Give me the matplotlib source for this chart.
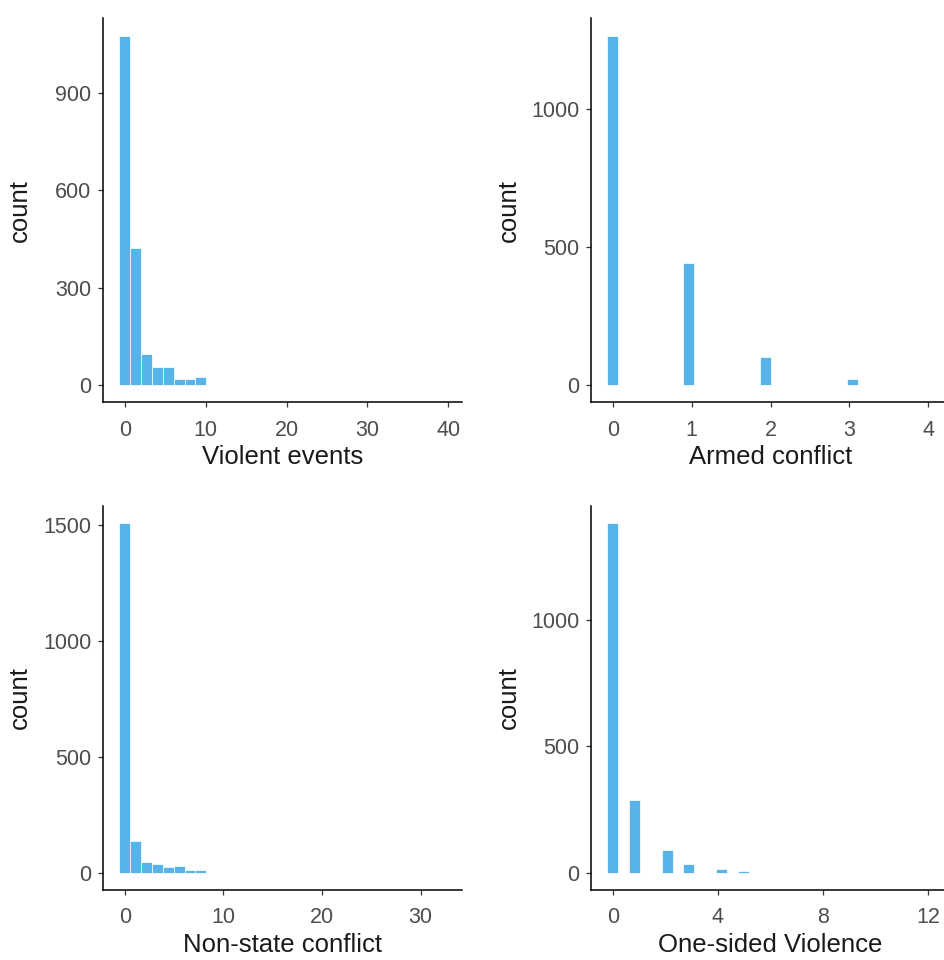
import numpy as np
import matplotlib
matplotlib.use('Agg')
import matplotlib.pyplot as plt

plt.rcParams['font.family'] = ['Liberation Sans', 'DejaVu Sans']

# histogram counts per bin (30 bins, ggplot style: bins centred on 0 .. max)
ve_max = 39
ve_counts = [1074, 421, 95, 55, 55, 20, 20, 25, 0, 0, 0, 0, 0, 0, 0,
             0, 0, 0, 0, 0, 0, 0, 0, 0, 0, 0, 0, 0, 0, 0]
ac_max = 4
ac_counts = [1264, 0, 0, 0, 0, 0, 0, 443, 0, 0, 0, 0, 0, 0, 103,
             0, 0, 0, 0, 0, 0, 0, 23, 0, 0, 0, 0, 0, 0, 0]
ns_max = 32
ns_counts = [1506, 134, 47, 37, 22, 30, 12, 10, 0, 0, 0, 0, 0, 0, 0,
             0, 0, 0, 0, 0, 0, 0, 0, 0, 0, 0, 0, 0, 0, 0]
os_max = 12
os_counts = [1383, 0, 289, 0, 0, 88, 0, 33, 0, 0, 16, 0, 8, 0, 0,
             0, 0, 0, 0, 0, 0, 0, 0, 0, 0, 0, 0, 0, 0, 0]

titles = ['Violent events', 'Armed conflict', 'Non-state conflict', 'One-sided Violence']
xticks = [[0, 10, 20, 30, 40], [0, 1, 2, 3, 4], [0, 10, 20, 30], [0, 4, 8, 12]]
yticks = [[0, 300, 600, 900], [0, 500, 1000], [0, 500, 1000, 1500], [0, 500, 1000]]

panels = [(ve_max, ve_counts), (ac_max, ac_counts), (ns_max, ns_counts), (os_max, os_counts)]

W, H = 944, 960
fig = plt.figure(figsize=(W / 100, H / 100), dpi=100)

# axes boxes in pixels: left, top, width, height
boxes = [(103, 18.5, 359, 384), (591, 18.5, 359, 384),
         (103, 506, 359, 384), (591, 506, 359, 384)]

bar_color = '#56B4E9'

for i, ((xmax, counts), box) in enumerate(zip(panels, boxes)):
    left, top, w, h = box
    ax = fig.add_axes([left / W, 1 - (top + h) / H, w / W, h / H])
    counts = np.array(counts)
    bw = xmax / (len(counts) - 1)
    centers = np.arange(len(counts)) * bw
    ax.bar(centers, counts, width=bw, color=bar_color, edgecolor='white', linewidth=0.5)

    ax.set_xlim(-2 * bw, xmax + 2 * bw)
    ymax = counts.max()
    ax.set_ylim(-0.05 * ymax, 1.05 * ymax)
    ax.set_xticks(xticks[i])
    ax.set_yticks(yticks[i])

    for s in ['top', 'right']:
        ax.spines[s].set_visible(False)
    for s in ['left', 'bottom']:
        ax.spines[s].set_linewidth(1.1)
        ax.spines[s].set_color('black')
    ax.tick_params(direction='out', length=3.5, width=0.9, color='#333333',
                   labelsize=15.5, labelcolor='#4D4D4D')
    ax.tick_params(axis='x', pad=9)
    ax.tick_params(axis='y', pad=5)

    ax.set_xlabel(titles[i], fontsize=18.5, color='#1a1a1a')
    ax.set_ylabel('count', fontsize=18.5, color='#1a1a1a')
    ax.xaxis.set_label_coords(0.5, -62 / h)
    ax.xaxis.label.set_va('baseline')
    ylab_x = 20 if i % 2 == 0 else 509
    ax.yaxis.set_label_coords((ylab_x - left) / w, 0.5)
    ax.yaxis.label.set_va('center')

fig.savefig('out.png', dpi=100)
